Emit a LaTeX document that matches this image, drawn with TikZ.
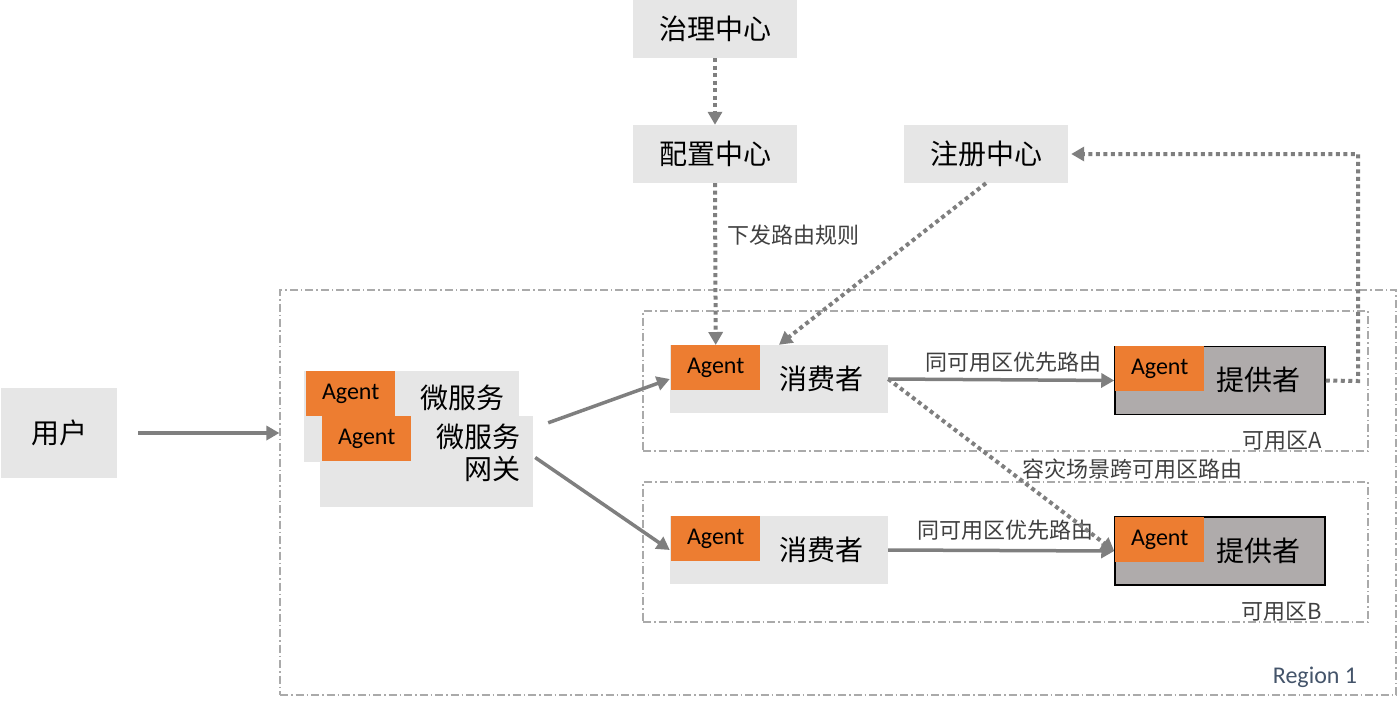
\documentclass[tikz,border=0pt]{standalone}
\usepackage{fontspec}
\setmainfont{Noto Sans CJK SC}
\newfontfamily\latinfont{Carlito}
\usetikzlibrary{arrows.meta,positioning,calc}

\definecolor{boxgray}{HTML}{E6E6E6}
\definecolor{provgray}{HTML}{AFABAB}
\definecolor{agentorange}{HTML}{ED7D31}
\definecolor{linegray}{HTML}{7F7F7F}
\definecolor{zonegray}{HTML}{AAAAAA}
\definecolor{regionblue}{HTML}{44546A}

\begin{document}
\begin{tikzpicture}[x=1pt, y=-1pt,
    center/.style={fill=boxgray, minimum width=164pt, minimum height=58pt, inner sep=0pt, font=\fontsize{28}{30}\selectfont},
    svc/.style={fill=boxgray, minimum width=218pt, minimum height=68pt, inner sep=0pt},
    prov/.style={fill=provgray, draw=black, line width=1.5pt, minimum width=210pt, minimum height=68pt, inner sep=0pt},
    agent/.style={fill=agentorange, minimum width=89pt, minimum height=45pt, inner sep=0pt, font=\latinfont\fontsize{24}{26}\selectfont},
    big/.style={inner sep=0pt, font=\fontsize{28}{32}\selectfont},
    lbl/.style={inner sep=0pt, text=black!75, font=\fontsize{22}{24}\selectfont},
    zone/.style={draw=zonegray, line width=1.2pt, dash pattern=on 8pt off 3pt on 1.5pt off 3pt, inner sep=0pt},
    flow/.style={draw=linegray, line width=3.5pt, -{Triangle[length=13pt,width=14pt]}},
    dots/.style={draw=linegray, line width=4pt, dash pattern=on 4pt off 3.5pt, -{Triangle[length=13pt,width=14pt]}}
  ]
    \useasboundingbox (0,0) rectangle (1400,704);

    % zones
    \node[zone, minimum width=1116pt, minimum height=405pt] (region) at (838,492.5) {};
    \node[zone, minimum width=725pt, minimum height=140pt] (zoneA) at (1005.5,381) {};
    \node[zone, minimum width=725pt, minimum height=140pt] (zoneB) at (1005.5,552) {};
    \node[lbl, anchor=south east] (zoneAtxt) at (1322,451) {可用区A};
    \node[lbl, anchor=south east] (zoneBtxt) at (1322,622) {可用区B};
    \node[inner sep=0pt, text=regionblue, font=\latinfont\fontsize{24}{26}\selectfont] (regiontxt) at (1315,677) {Region 1};

    % centres
    \node[center] (gov) at (715,29) {治理中心};
    \node[center] (cfg) at (715,154) {配置中心};
    \node[center] (reg) at (986,154) {注册中心};
    \node[fill=boxgray, minimum width=116pt, minimum height=90pt, font=\fontsize{28}{30}\selectfont] (user) at (59,433) {用户};

    % microservice + gateway
    \node[fill=boxgray, minimum width=215pt, minimum height=91pt, inner sep=0pt] (ms) at (411.5,416.5) {};
    \node[agent, anchor=north west] (msagent) at (306,371) {Agent};
    \node[big] (mstxt) at (462,398) {微服务};
    \node[fill=boxgray, minimum width=213pt, minimum height=91pt, inner sep=0pt] (gw) at (426.5,461.5) {};
    \node[agent, anchor=north west] (gwagent) at (322,416) {Agent};
    \node[big, align=right, anchor=north east] (gwtxt) at (521,424) {微服务\\网关};

    % zone A
    \node[svc] (consA) at (779,379) {};
    \node[agent, anchor=north west] (consAagent) at (671,345) {Agent};
    \node[big] (consAtxt) at (821,379) {消费者};
    \node[prov] (provA) at (1220,380.5) {};
    \node[agent, anchor=north west] (provAagent) at (1115,346) {Agent};
    \node[big] (provAtxt) at (1258,380) {提供者};

    % zone B
    \node[svc] (consB) at (779,550) {};
    \node[agent, anchor=north west] (consBagent) at (671,516) {Agent};
    \node[big] (consBtxt) at (821,550) {消费者};
    \node[prov] (provB) at (1220,551) {};
    \node[agent, anchor=north west] (provBagent) at (1115,517) {Agent};
    \node[big] (provBtxt) at (1258,551) {提供者};

    % connectors
    \draw[flow, shorten <=21pt] (user.east) -- (region.west |- user.east);
    \draw[flow] ([shift={(15pt,-7pt)}]gw.north east) -- (consA.west);
    \draw[flow] ([shift={(2pt,4pt)}]gw.east) -- (consB.west);
    \draw[dots] (gov.south) -- (cfg.north);
    \draw[dots] (cfg.south) -- node[lbl, right=10pt, pos=0.32] (rulelbl) {下发路由规则} (consAagent.north);
    \draw[dots] (reg.south) -- (consA.north);
    \coordinate (back) at (1358,381);
    \draw[dots, shorten >=3pt] (provA.east) -- (back) -- (back |- reg.east) -- (reg.east);
    \draw[flow] (consA.east) -- node[lbl, above=6pt, xshift=12pt] (sameA) {同可用区优先路由} (provA.west);
    \draw[flow] (consB.east) -- node[lbl, above=8pt, xshift=4pt] (sameB) {同可用区优先路由} (provB.west);
    \draw[dots] (consA.east) -- (provB.west);
    \node[lbl] (crosslbl) at (1132,469) {容灾场景跨可用区路由};
\end{tikzpicture}
\end{document}
